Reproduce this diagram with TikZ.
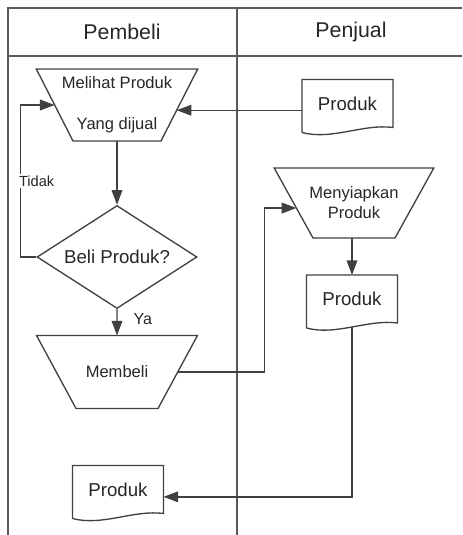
\documentclass[tikz,border=0pt]{standalone}
\usepackage{fontspec}
\setmainfont{Liberation Sans}
\usetikzlibrary{shapes.geometric,arrows.meta}
\tikzset{
  garis/.style={draw=black!75,line width=1pt},
  panah/.style={garis,-{Triangle[length=11pt,width=8pt]}},
  proses/.style={garis,trapezium,shape border rotate=180,inner sep=0pt,outer sep=0pt,
    text depth=0pt},
  isiproses/.style={font=\fontsize{12.4}{15}\selectfont,align=center,text=black!85},
  dokumen/.style={minimum width=68.25pt,minimum height=36pt,inner sep=0pt,outer sep=0pt,
    font=\fontsize{14}{17}\selectfont,text=black!85},
  keputusan/.style={garis,diamond,aspect=1.55,inner sep=0pt,minimum width=120pt,
    minimum height=77.25pt,font=\fontsize{14}{17}\selectfont,text=black!85},
  judul/.style={font=\fontsize{16}{19}\selectfont,text=black!85},
  ket/.style={font=\fontsize{11}{13}\selectfont,text=black!85,inner sep=1pt}
}
\begin{document}
\begin{tikzpicture}[x=0.75pt,y=-0.75pt]
\useasboundingbox (0,0) rectangle (462,535);
% tabel swimlane
\draw[garis,draw=black!65,line width=1.2pt] (462,8) -- (8,8) -- (8,535)
  (8,56) -- (462,56) (237,8) -- (237,535);
\node[judul] (pembeli) at (122,32) {Pembeli};
\node[judul] (penjual) at (351,32) {Penjual};
% kolom pembeli
\node[proses,text width=66pt,text height=54pt,trapezium left angle=63,trapezium right angle=63,
  label={[isiproses,font=\fontsize{12.4}{30.75}\selectfont]center:Melihat Produk\\Yang dijual}] (melihat) at (117,105) {};
\node[keputusan] (beli) at (117,257) {Beli Produk?};
\node[proses,text width=61.5pt,text height=54.75pt,trapezium left angle=61.6,trapezium right angle=61.6,
  label={[isiproses]center:Membeli}] (membeli) at (117,372) {};
\node[dokumen] (produkC) at (118,489.5) {Produk};
% kolom penjual
\node[dokumen] (produkA) at (347.5,103.5) {Produk};
\node[proses,text width=61.5pt,text height=52.5pt,trapezium left angle=61,trapezium right angle=61,
  label={[isiproses]center:Menyiapkan\\Produk}] (siapkan) at (354,203) {};
\node[dokumen] (produkB) at (352,299) {Produk};
% bentuk dokumen
\foreach \d in {produkA,produkB,produkC}
  \draw[garis] ([yshift=-3.75pt]\d.south west) -- (\d.north west) -- (\d.north east) -- (\d.south east)
    .. controls +(-30,-4) and +(30,8) .. ([yshift=-3.75pt]\d.south west);
% alur
\draw[panah] (melihat.-5 -| produkA.west) -- (melihat.-5);
\draw[panah] (melihat.south) -- (beli.north);
\draw[panah] (beli.west) -- ++(-16,0) |- node[ket,pos=0.25,anchor=west,xshift=-2.5pt,fill=white]{Tidak} (melihat.west);
\draw[panah] (beli.south) -- node[ket,right=11pt,pos=0.37,font=\fontsize{12}{14}\selectfont]{Ya} (membeli.north);
\draw[panah] (membeli.east) -- ++(87,0) |- (siapkan.185);
\draw[panah] (siapkan.south -| produkB.north) -- (produkB.north);
\draw[panah] ([yshift=-3pt]produkB.south) |- ([yshift=-5.5pt]produkC.east);
\end{tikzpicture}
\end{document}
